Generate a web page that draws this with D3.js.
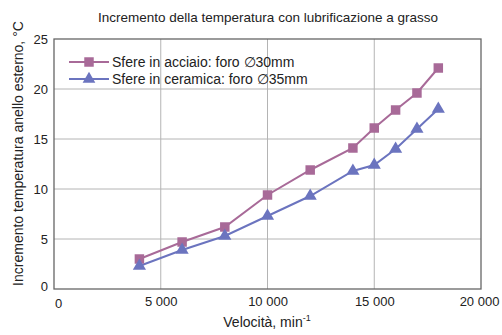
<!DOCTYPE html>
<html>
<head>
<meta charset="utf-8">
<script src="https://cdn.jsdelivr.net/npm/d3@7"></script>
<style>
  body { margin: 0; background: #fff; }
  text { font-family: "Liberation Sans", Arial, sans-serif; fill: #222; }
</style>
</head>
<body>
<div id="wrapper"></div>
<script>
// dati
const speeds = [4000, 6000, 8000, 10000, 12000, 14000, 15000, 16000, 17000, 18000];
const steel = [3.0, 4.7, 6.2, 9.4, 11.9, 14.1, 16.1, 17.9, 19.6, 22.1];
const ceramic = [2.3, 3.9, 5.3, 7.3, 9.3, 11.8, 12.4, 14.0, 16.0, 18.0];
const xTicks = [0, 5000, 10000, 15000, 20000];
const yTicks = [0, 5, 10, 15, 20, 25];
const seriesNames = ['Sfere in acciaio: foro \u220530mm', 'Sfere in ceramica: foro \u220535mm'];

const W = 502, H = 335;
const margin = {top: 39, right: 21, bottom: 46, left: 54};

const svg = d3.select('#wrapper').append('svg')
  .attr('width', W).attr('height', H);

const x = d3.scaleLinear().domain([0, 20000]).range([margin.left, W - margin.right]);
const y = d3.scaleLinear().domain([0, 25]).range([H - margin.bottom, margin.top]);

// griglia
svg.append('g').selectAll('line.h')
  .data(yTicks.slice(1, -1))
  .join('line')
  .attr('x1', x(0)).attr('x2', x(20000))
  .attr('y1', d => y(d)).attr('y2', d => y(d))
  .attr('stroke', '#b4b4b4').attr('stroke-width', 1);

svg.append('g').selectAll('line.v')
  .data(xTicks.slice(1, -1))
  .join('line')
  .attr('y1', y(0)).attr('y2', y(25))
  .attr('x1', d => x(d)).attr('x2', d => x(d))
  .attr('stroke', '#b4b4b4').attr('stroke-width', 1);

// bordo
svg.append('rect')
  .attr('x', x(0)).attr('y', y(25))
  .attr('width', x(20000) - x(0)).attr('height', y(0) - y(25))
  .attr('fill', 'none').attr('stroke', '#666').attr('stroke-width', 1.3);

// assi
const xaxis = d3.axisBottom(x).tickValues(xTicks).tickSize(0).tickPadding(8)
  .tickFormat(d => d === 0 ? '0' : d3.format(',')(d).replace(/,/g, ' '));
const g_x = svg.append('g').attr('transform', `translate(0,${y(0)})`).call(xaxis);
g_x.select('.domain').remove();
g_x.selectAll('text').attr('font-size', '13px').attr('fill', '#222')
  .attr('font-family', '"Liberation Sans", Arial, sans-serif');
g_x.selectAll('.tick').filter(d => d === 0).select('text').attr('dx', 4).attr('dy', '0.85em');
g_x.selectAll('.tick').filter(d => d === 20000).select('text').attr('dx', -2);

const yaxis = d3.axisLeft(y).tickValues(yTicks).tickSize(0).tickPadding(6);
const g_y = svg.append('g').attr('transform', `translate(${x(0)},0)`).call(yaxis);
g_y.select('.domain').remove();
g_y.selectAll('text').attr('font-size', '13px').attr('fill', '#222')
  .attr('font-family', '"Liberation Sans", Arial, sans-serif');
g_y.selectAll('.tick').filter(d => d === 0).select('text').attr('dy', '0.1em');

// titoli
svg.append('text')
  .attr('x', 268).attr('y', 22)
  .attr('text-anchor', 'middle').attr('font-size', '13.5px')
  .text('Incremento della temperatura con lubrificazione a grasso');

const xl = svg.append('text')
  .attr('x', 267).attr('y', 327)
  .attr('text-anchor', 'middle').attr('font-size', '14px');
xl.append('tspan').text('Velocità, min');
xl.append('tspan').attr('font-size', '9px').attr('dy', -6).text('-1');

svg.append('text')
  .attr('transform', `translate(23,${(y(0) + 14) / 2 + 2}) rotate(-90)`)
  .attr('text-anchor', 'middle').attr('font-size', '14px')
  .text('Incremento temperatura anello esterno, °C');

// serie
const colors = ['#a86a98', '#6b74bf'];
const series = [steel, ceramic];
const line = d3.line().x((d, i) => x(speeds[i])).y(d => y(d));

series.forEach((vals, k) => {
  svg.append('path')
    .datum(vals)
    .attr('d', line)
    .attr('fill', 'none')
    .attr('stroke', colors[k])
    .attr('stroke-width', 2);
});

const sq = d3.symbol().type(d3.symbolSquare).size(90);
const tri = d3.symbol().type(d3.symbolTriangle).size(75);

svg.append('g').selectAll('path')
  .data(steel)
  .join('path')
  .attr('d', sq)
  .attr('transform', (d, i) => `translate(${x(speeds[i])},${y(d)})`)
  .attr('fill', colors[0]);

svg.append('g').selectAll('path')
  .data(ceramic)
  .join('path')
  .attr('d', tri)
  .attr('transform', (d, i) => `translate(${x(speeds[i])},${y(d)})`)
  .attr('fill', colors[1]);

// legenda
const legend = svg.append('g');
seriesNames.forEach((name, k) => {
  const ly = 62 + k * 17;
  legend.append('line')
    .attr('x1', 69).attr('x2', 109).attr('y1', ly).attr('y2', ly)
    .attr('stroke', colors[k]).attr('stroke-width', 2);
  legend.append('path')
    .attr('d', k === 0 ? d3.symbol().type(d3.symbolSquare).size(90)() : d3.symbol().type(d3.symbolTriangle).size(70)())
    .attr('transform', `translate(89,${ly})`)
    .attr('fill', colors[k]);
  legend.append('text')
    .attr('x', 112).attr('y', ly + 5)
    .attr('font-size', '14px')
    .text(name);
});
</script>
</body>
</html>
